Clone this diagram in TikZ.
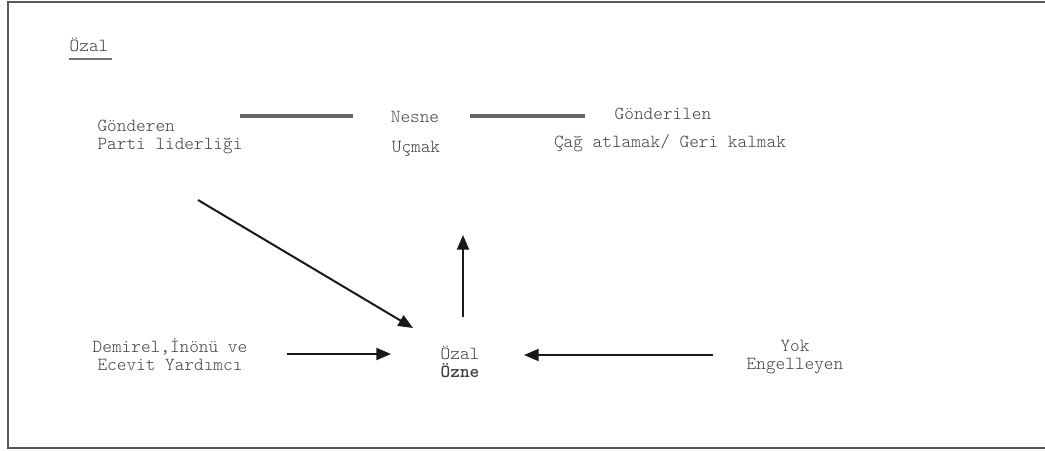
\documentclass[tikz,border=0pt]{standalone}
\usepackage{fontspec}
\setmainfont{Latin Modern Mono Light}
\usetikzlibrary{arrows.meta}

\begin{document}
\begin{tikzpicture}[x=0.75pt, y=-0.75pt,
	every node/.style={font=\fontsize{13.8}{13.4}\selectfont, text=black!75, inner sep=0pt},
	rel/.style={draw=black!60, line width=2.4pt},
	arr/.style={draw=black!90, line width=1.5pt, -{Triangle[length=11pt, width=9pt]}}]
	\useasboundingbox (0,0) rectangle (1045,450);
	\draw[black!65, line width=1.5pt] (1045,1.5) -- (8,1.5) -- (8,447.5) -- (1045,447.5);
	% title
	\node (baslik) at (89,45) {Özal};
	\draw[black!55, line width=1pt] (baslik.south west) ++(0,7) -- ++(43,0);
	% upper row
	\node[align=left] (gonderen) at (170,137) {Gönderen\\Parti liderliği};
	\node (nesne) at (415,117) {Nesne};
	\node (ucmak) at (416,149) {Uçmak};
	\node (gonderilen) at (663,114) {Gönderilen};
	\node (cag) at (670,143) {Çağ atlamak/ Geri kalmak};
	% lower row
	\node[align=center] (yardimci) at (170,355) {Demirel,İnönü ve\\Ecevit Yardımcı};
	\node[align=left] (ozne) at (460,362) {Özal\\\textbf{Özne}};
	\node[align=center] (engel) at (795,357) {Yok\\Engelleyen};
	% connector ends
	\coordinate (g1) at (240,116);
	\coordinate (n1) at (353,116);
	\coordinate (n2) at (470,116);
	\coordinate (g2) at (585,116);
	\coordinate (dstart) at (198,200);
	\coordinate (dend) at (413,328);
	\coordinate (ustart) at (463,317);
	\coordinate (uend) at (463,235);
	\coordinate (ystart) at (287,354);
	\coordinate (yend) at (391,354);
	\coordinate (estart) at (713,355);
	\coordinate (eend) at (524,355);
	\draw[rel] (g1) -- (n1);
	\draw[rel] (n2) -- (g2);
	\draw[arr] (dstart) -- (dend);
	\draw[arr] (ustart) -- (uend);
	\draw[arr] (ystart) -- (yend);
	\draw[arr] (estart) -- (eend);
\end{tikzpicture}
\end{document}
